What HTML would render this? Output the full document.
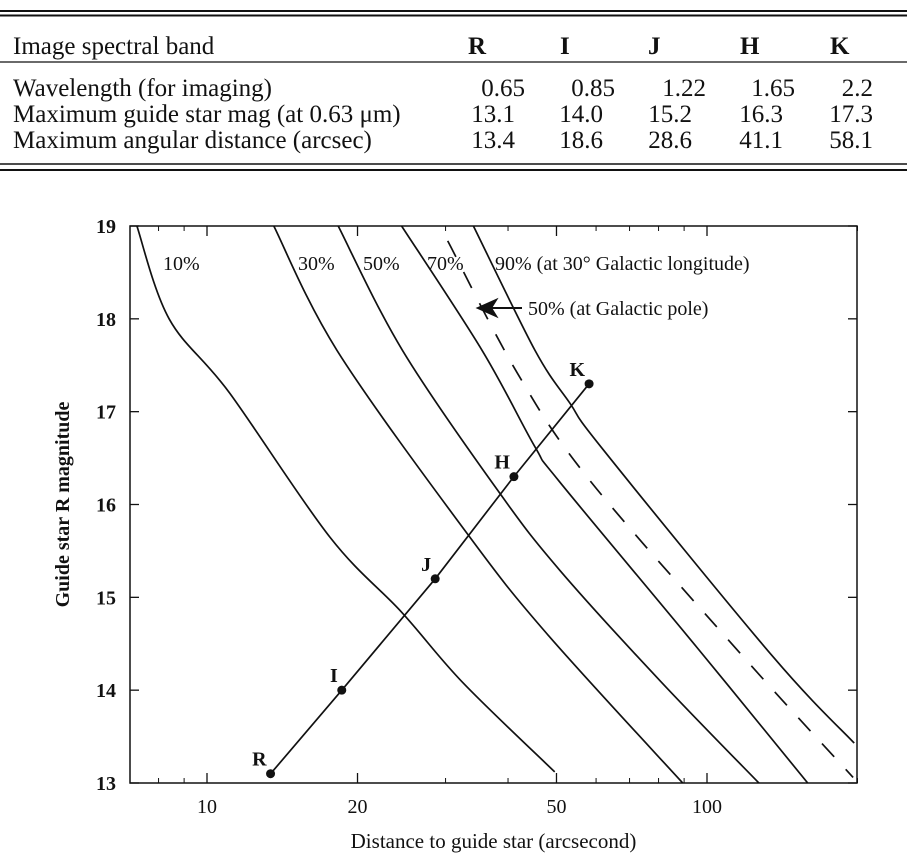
<!DOCTYPE html>
<html><head><meta charset="utf-8"><style>
html,body{margin:0;padding:0;background:#fff;}
svg{display:block;font-family:"Liberation Serif",serif;}
</style></head><body>
<svg id="fig" width="907" height="864" viewBox="0 0 907 864" xmlns="http://www.w3.org/2000/svg">
<g fill="#111" font-size="25">
<line x1="0" y1="11" x2="907" y2="11" stroke="#111" stroke-width="2"/>
<line x1="0" y1="15.5" x2="907" y2="15.5" stroke="#111" stroke-width="2"/>
<text x="13" y="54">Image spectral band</text>
<text x="468" y="54" font-weight="bold">R</text>
<text x="560" y="54" font-weight="bold">I</text>
<text x="648" y="54" font-weight="bold">J</text>
<text x="740" y="54" font-weight="bold">H</text>
<text x="830" y="54" font-weight="bold">K</text>
<line x1="0" y1="62" x2="907" y2="62" stroke="#111" stroke-width="1.3"/>
<text x="13" y="96">Wavelength (for imaging)</text>
<text x="13" y="122">Maximum guide star mag (at 0.63 μm)</text>
<text x="13" y="148">Maximum angular distance (arcsec)</text>
<g text-anchor="end">
<text x="525" y="96">0.65</text><text x="615" y="96">0.85</text><text x="706" y="96">1.22</text><text x="795" y="96">1.65</text><text x="873" y="96">2.2</text>
<text x="515" y="122">13.1</text><text x="603" y="122">14.0</text><text x="692" y="122">15.2</text><text x="783" y="122">16.3</text><text x="873" y="122">17.3</text>
<text x="515" y="148">13.4</text><text x="603" y="148">18.6</text><text x="692" y="148">28.6</text><text x="783" y="148">41.1</text><text x="873" y="148">58.1</text>
</g>
<line x1="0" y1="164" x2="907" y2="164" stroke="#111" stroke-width="1.5"/>
<line x1="0" y1="170" x2="907" y2="170" stroke="#111" stroke-width="2"/>
</g>
<g id="chart"></g>
</svg>
<script>
const xTicks=[10,20,50,100];
const yTicks=[13,14,15,16,17,18,19];
const bandNames=["R","I","J","H","K"];
const bandDist=[13.4,18.6,28.6,41.1,58.1];
const bandMag=[13.1,14.0,15.2,16.3,17.3];
const c10=[[7.24,19],[8.4,18],[11.1,17.2],[17.6,15.65],[24.5,14.84],[32.5,14.08],[49.6,13.12]];
const c30=[[13.6,19],[18.2,17.66],[33,15.7],[47.8,14.61],[89.4,13]];
const c50=[[18.3,19],[24.6,17.66],[38.4,16.13],[50.8,15.29],[80.6,14.1],[127,13]];
const c70=[[24.5,19],[35.5,17.66],[45.3,16.62],[50.8,16.24],[95.5,14.46],[159,13]];
const c90=[[34.1,19],[45.3,17.66],[53.2,17.09],[62,16.59],[135.5,14.36],[197,13.43]];
const cPole=[[30.3,18.84],[41.7,17.42],[58.3,16.26],[120,14.32],[196,13.06]];
const curveNames=["curve-10pct","curve-30pct","curve-50pct","curve-70pct","curve-90pct"];

const L=130,R=857,T=226,B=783;
const X=d=>207+500*(Math.log10(d)-1);
const Y=m=>T+(19-m)*(B-T)/6;
const NS="http://www.w3.org/2000/svg";
const g=document.getElementById("chart");
function mk(tag,attrs,parent){const e=document.createElementNS(NS,tag);for(const k in attrs)e.setAttribute(k,attrs[k]);(parent||g).appendChild(e);return e;}

const frame=mk("rect",{x:L,y:T,width:R-L,height:B-T,fill:"none",stroke:"#111","stroke-width":1.5});



const minor=[8,9,30,40,60,70,80,90,200];
minor.forEach(d=>{const x=X(d);
  const t=mk("line",{x1:x,y1:B,x2:x,y2:B-5,stroke:"#111","stroke-width":1});
  
  
  const t2=mk("line",{x1:x,y1:T,x2:x,y2:T+5,stroke:"#111","stroke-width":1});
  
  
});
xTicks.forEach(d=>{const x=X(d);
  const t=mk("line",{x1:x,y1:B,x2:x,y2:B-10,stroke:"#111","stroke-width":1.3});
  
  
  const t2=mk("line",{x1:x,y1:T,x2:x,y2:T+10,stroke:"#111","stroke-width":1.3});
  
  
  const l=mk("text",{x:x,y:B+30,"text-anchor":"middle","font-size":20,fill:"#111"});
  l.textContent=d;
  
  
});
yTicks.forEach(m=>{const y=Y(m);
  const t=mk("line",{x1:L,y1:y,x2:L+9,y2:y,stroke:"#111","stroke-width":1.3});
  
  
  const t2=mk("line",{x1:R,y1:y,x2:R-9,y2:y,stroke:"#111","stroke-width":1.3});
  
  
  const l=mk("text",{x:L-14,y:y+7,"text-anchor":"end","font-size":20,"font-weight":"bold",fill:"#111"});
  l.textContent=m;
  
  
});
const xt=mk("text",{x:(L+R)/2,y:848,"text-anchor":"middle","font-size":21,fill:"#111"});
xt.textContent="Distance to guide star (arcsecond)";


const yt=mk("text",{x:0,y:0,"text-anchor":"middle","font-size":20,"font-weight":"bold",fill:"#111",transform:`translate(69,${(T+B)/2}) rotate(-90)`});
yt.textContent="Guide star R magnitude";



const clip=mk("clipPath",{id:"pc"});
mk("rect",{x:L,y:T,width:R-L,height:B-T},clip);
function pathOf(pts){
  const p=pts.map(q=>[X(q[0]),Y(q[1])]);
  let d="M"+p[0][0].toFixed(1)+","+p[0][1].toFixed(1);
  for(let i=0;i<p.length-1;i++){
    const p0=p[Math.max(0,i-1)],p1=p[i],p2=p[i+1],p3=p[Math.min(p.length-1,i+2)];
    const c1=[p1[0]+(p2[0]-p0[0])/6,p1[1]+(p2[1]-p0[1])/6];
    const c2=[p2[0]-(p3[0]-p1[0])/6,p2[1]-(p3[1]-p1[1])/6];
    d+=" C"+c1.map(v=>v.toFixed(1)).join(",")+" "+c2.map(v=>v.toFixed(1)).join(",")+" "+p2.map(v=>v.toFixed(1)).join(",");
  }
  return d;
}
[c10,c30,c50,c70,c90].forEach((c,i)=>{
  const p=mk("path",{d:pathOf(c),fill:"none",stroke:"#111","stroke-width":1.7,"clip-path":"url(#pc)","stroke-linejoin":"round"});
  
  
});
const pp=mk("path",{d:pathOf(cPole),fill:"none",stroke:"#111","stroke-width":1.7,"stroke-dasharray":"18 17","clip-path":"url(#pc)"});



const labels=[["10%",163],["30%",298],["50%",363],["70%",427],["90% (at 30° Galactic longitude)",495]];
labels.forEach(l=>{const t=mk("text",{x:l[1],y:270,"font-size":20,fill:"#111"});
  t.textContent=l[0];
  
  });
const ar=mk("path",{d:"M522,308 L484,308 M478,308 L496,300 L491,308 L496,316 Z",stroke:"#111","stroke-width":2,fill:"#111"});


const pl=mk("text",{x:528,y:315,"font-size":20,fill:"#111"});
pl.textContent="50% (at Galactic pole)";



const band=mk("path",{d:bandDist.map((d,i)=>(i?"L":"M")+X(d).toFixed(1)+","+Y(bandMag[i]).toFixed(1)).join(" "),fill:"none",stroke:"#111","stroke-width":1.7});


bandDist.forEach((d,i)=>{
  const c=mk("circle",{cx:X(d),cy:Y(bandMag[i]),r:4.5,fill:"#111"});
  
  
  const t=mk("text",{x:X(d)-4,y:Y(bandMag[i])-8,"text-anchor":"end","font-size":20,"font-weight":"bold",fill:"#111"});
  t.textContent=bandNames[i];
  
  
});
</script>
</body></html>
